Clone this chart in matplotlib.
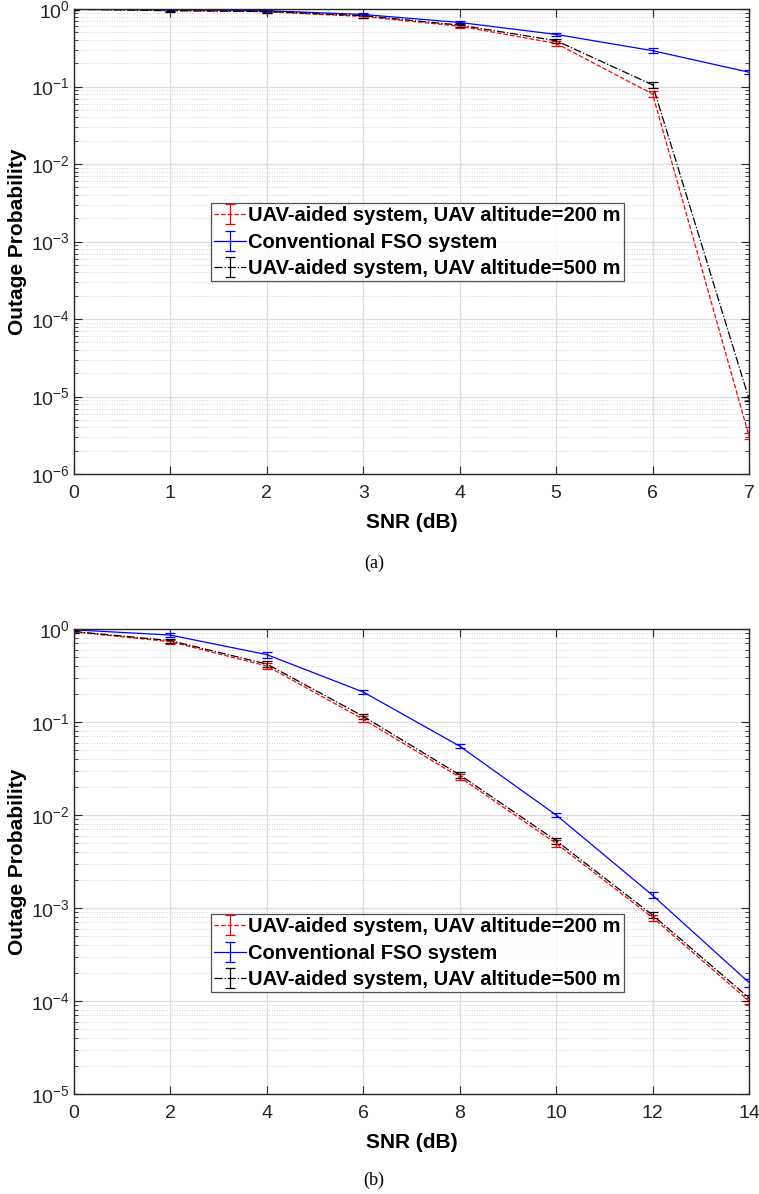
import matplotlib
matplotlib.use('Agg')
import matplotlib.pyplot as plt
import numpy as np
from matplotlib.ticker import LogLocator, NullFormatter
from matplotlib.legend_handler import HandlerErrorbar
from matplotlib.container import ErrorbarContainer

matplotlib.rcParams['font.family'] = 'Liberation Sans'
matplotlib.rcParams['mathtext.default'] = 'regular'

# ---- panel (a) data ----
snr_a = [0, 1, 2, 3, 4, 5, 6, 7]
a_200 = [0.99, 0.96, 0.92, 0.80, 0.60, 0.36, 0.080, 3.1e-6]
a_200_err = [0.03, 0.03, 0.03, 0.03, 0.03, 0.025, 0.007, 3e-7]
a_conv = [1.0, 0.98, 0.95, 0.85, 0.67, 0.47, 0.29, 0.153]
a_conv_err = [0.03, 0.03, 0.03, 0.03, 0.03, 0.025, 0.02, 0.01]
a_500 = [0.99, 0.95, 0.93, 0.82, 0.62, 0.39, 0.105, 9.3e-6]
a_500_err = [0.03, 0.04, 0.03, 0.05, 0.03, 0.025, 0.008, 6e-7]

# ---- panel (b) data ----
snr_b = [0, 2, 4, 6, 8, 10, 12, 14]
b_200 = [0.93, 0.73, 0.40, 0.107, 0.0255, 4.95e-3, 7.9e-4, 1.0e-4]
b_200_err = [0.03, 0.035, 0.03, 0.008, 0.002, 0.0004, 6e-5, 8e-6]
b_conv = [0.98, 0.86, 0.53, 0.21, 0.055, 0.0100, 1.37e-3, 1.58e-4]
b_conv_err = [0.03, 0.04, 0.04, 0.012, 0.003, 0.0006, 1e-4, 1.5e-5]
b_500 = [0.94, 0.75, 0.42, 0.115, 0.027, 5.3e-3, 8.4e-4, 1.08e-4]
b_500_err = [0.03, 0.035, 0.03, 0.008, 0.002, 0.0004, 6e-5, 8e-6]

labels = ['UAV-aided system, UAV altitude=200 m',
          'Conventional FSO system',
          'UAV-aided system, UAV altitude=500 m']
colors = ['#ff0000', '#0000ff', '#000000']
styles = ['--', '-', '-.']
spine_col = '#262626'


def draw_panel(ax, x, series, errs, xticks, ylim, leg_top):
  for y, e, lab, c, ls in zip(series, errs, labels, colors, styles):
    ax.errorbar(x, y, yerr=e, color=c, linestyle=ls, linewidth=0.9,
                elinewidth=0.9, capsize=3.5, capthick=0.9, label=lab)
  ax.set_yscale('log')
  ax.set_xlim(x[0], x[-1])
  ax.set_ylim(*ylim)
  ax.set_xticks(xticks)
  ax.yaxis.set_major_locator(LogLocator(base=10, numticks=20))
  ax.yaxis.set_minor_locator(LogLocator(base=10, subs=np.arange(2, 10), numticks=100))
  ax.yaxis.set_minor_formatter(NullFormatter())
  ax.grid(True, which='major', color='#dcdcdc', linewidth=0.9, linestyle='-')
  ax.grid(True, which='minor', axis='y', color='#c8c8c8', linewidth=0.6, linestyle=(0, (1, 2)))
  ax.set_axisbelow(True)
  ax.tick_params(direction='in', which='both', top=True, right=True,
                 labelsize=14, colors=spine_col, labelcolor='#262626')
  ax.tick_params(which='major', length=6)
  ax.tick_params(which='minor', length=3)
  ax.tick_params(axis='x', pad=8)
  ax.tick_params(axis='y', pad=3)
  for pos in ['top', 'bottom', 'right', 'left']:
    ax.spines[pos].set_color(spine_col)
    ax.spines[pos].set_linewidth(1.0)
  ax.set_xlabel('SNR (dB)', fontsize=15, fontweight='bold', labelpad=8)
  ax.set_ylabel('Outage Probability', fontsize=15, fontweight='bold', labelpad=3)
  leg = ax.legend(loc='upper left', bbox_to_anchor=(0.203, leg_top),
                  prop={'weight': 'bold', 'size': 14.5}, frameon=True, fancybox=False,
                  borderpad=0.15, labelspacing=0.38, handlelength=1.6, handletextpad=0.1,
                  borderaxespad=0,
                  handler_map={ErrorbarContainer: HandlerErrorbar(yerr_size=0.5)})
  leg.get_frame().set_edgecolor('#262626')
  leg.get_frame().set_linewidth(0.9)


fig = plt.figure(figsize=(7.59, 11.94), dpi=100)
ax1 = fig.add_axes([74 / 759, 1 - 474 / 1194, 675 / 759, 465 / 1194])
ax2 = fig.add_axes([74 / 759, 1 - 1094 / 1194, 675 / 759, 465 / 1194])

draw_panel(ax1, snr_a, [a_200, a_conv, a_500], [a_200_err, a_conv_err, a_500_err],
           snr_a, (1e-6, 1.0), (474 - 203) / 465)
draw_panel(ax2, snr_b, [b_200, b_conv, b_500], [b_200_err, b_conv_err, b_500_err],
           snr_b, (1e-5, 1.0), (1094 - 914) / 465)

fig.text(374 / 759, 1 - 563 / 1194, '(a)', ha='center', va='center',
         fontsize=13, family='Liberation Serif')
fig.text(374 / 759, 1 - 1180 / 1194, '(b)', ha='center', va='center',
         fontsize=13, family='Liberation Serif')

plt.savefig('out.png', dpi=100)
plt.close()
